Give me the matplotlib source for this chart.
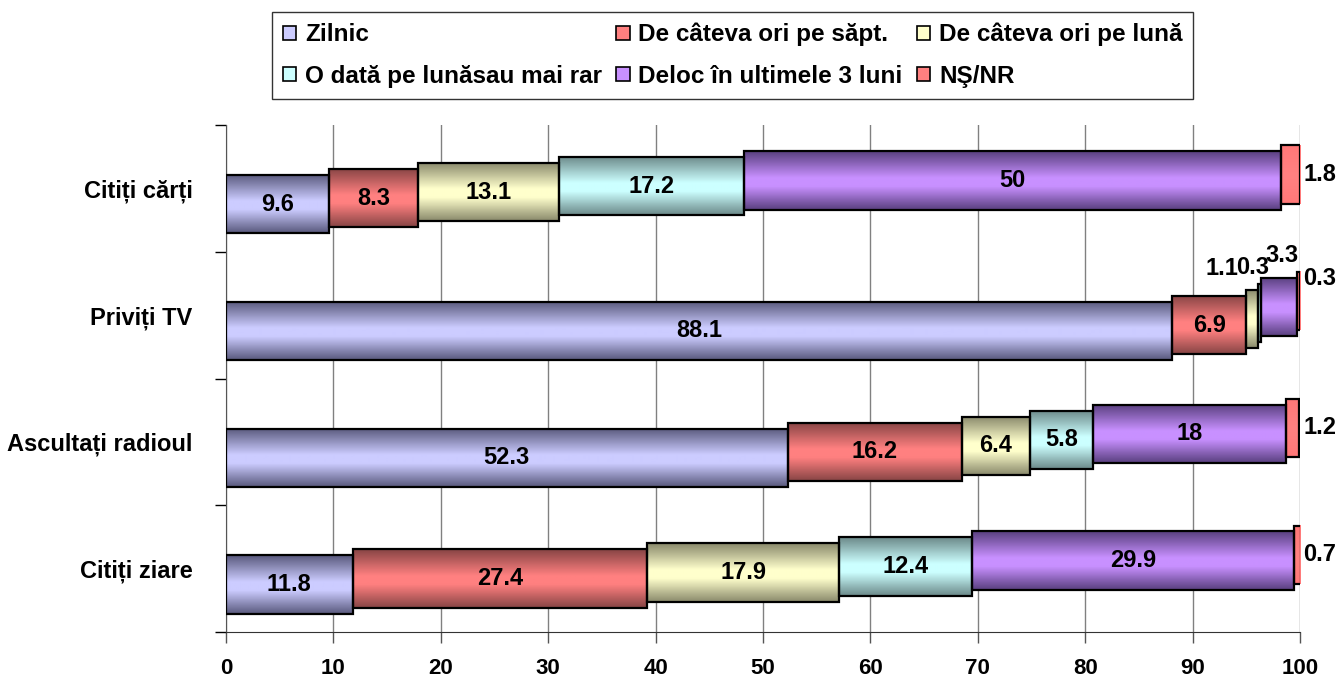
import numpy as np
import matplotlib
matplotlib.use("Agg")
import matplotlib.pyplot as plt
from matplotlib.colors import LinearSegmentedColormap
from matplotlib.patches import Rectangle, Patch

plt.rcParams['font.family'] = ['Liberation Sans', 'DejaVu Sans']
plt.rcParams['font.weight'] = 'bold'

# categories, bottom to top
categories = ['Citiți ziare', 'Ascultați radioul', 'Priviți TV', 'Citiți cărți']
series_names = ['Zilnic', 'De câteva ori pe săpt.', 'De câteva ori pe lună',
                'O dată pe lunăsau mai rar', 'Deloc în ultimele 3 luni', 'NŞ/NR']
zilnic = [11.8, 52.3, 88.1, 9.6]
saptamana = [27.4, 16.2, 6.9, 8.3]
luna = [17.9, 6.4, 1.1, 13.1]
rar = [12.4, 5.8, 0.3, 17.2]
deloc = [29.9, 18.0, 3.3, 50.0]
nsnr = [0.7, 1.2, 0.3, 1.8]
values = np.array([zilnic, saptamana, luna, rar, deloc, nsnr])
x_ticks = [0, 10, 20, 30, 40, 50, 60, 70, 80, 90, 100]

light = ['#CCCCFF', '#FF8080', '#FFFFCC', '#CCFFFF', '#C890FF', '#FF8080']
dark = ['#5A5A7E', '#884545', '#8A8A6C', '#6C8A8A', '#5A4080', '#FF7878']

W, H = 1339, 680
fig = plt.figure(figsize=(W / 100, H / 100), dpi=100)
ax = fig.add_axes([226 / W, 1 - 632 / H, (1300 - 226) / W, (632 - 125) / H])

bar_h = 0.46
base_off = -0.125
step = 0.047
grad = np.linspace(0, 1, 64).reshape(-1, 1)
lab = dict(fontsize=17, fontweight='bold', zorder=4)

# small TV segments: label offsets (dx, dy) relative to segment start / centre
small_off = {2: (-2.3, 0.40), 3: (-0.5, 0.36), 4: (1.9, 0.41)}

lefts = np.vstack([np.zeros(values.shape[1]), np.cumsum(values, axis=0)[:-1]])
for i in range(values.shape[0]):
    cmap = LinearSegmentedColormap.from_list(
        'c%d' % i, [(0, dark[i]), (0.45, light[i]), (0.6, light[i]), (1, dark[i])])
    for j in range(values.shape[1]):
        l = lefts[i, j]
        w = values[i, j]
        yc = j + base_off + step * i
        ax.imshow(grad, extent=[l, l + w, yc - bar_h / 2, yc + bar_h / 2],
                  aspect='auto', cmap=cmap, zorder=2, interpolation='bilinear')
        ax.add_patch(Rectangle((l, yc - bar_h / 2), w, bar_h, fill=False,
                               edgecolor='black', linewidth=1.6, zorder=3))
        txt = '%g' % w
        if i == 5:
            dy = 0.18 if w < 0.5 else 0
            ax.text(100.3, yc + dy, txt, ha='left', va='center', clip_on=False, **lab)
        elif w < 4:
            dx, dy = small_off[i]
            ax.text(l + dx, yc + dy, txt, ha='center', va='center', **lab)
        else:
            ax.text(l + w / 2, yc, txt, ha='center', va='center', **lab)

ax.set_xlim(0, 100)
ax.set_ylim(-0.5, len(categories) - 0.5)
ax.set_xticks(x_ticks)
ax.set_xticklabels([str(t) for t in x_ticks], fontsize=16, fontweight='bold')
ax.set_yticks(np.arange(len(categories) + 1) - 0.5)
ax.set_yticklabels([])
ax.set_yticks(np.arange(len(categories)), minor=True)
ax.set_yticklabels(categories, minor=True, fontsize=17, fontweight='bold')
ax.tick_params(axis='y', which='minor', length=0, pad=24)
ax.tick_params(axis='y', which='major', length=8, width=1, direction='out')
ax.tick_params(axis='x', length=8, width=1, direction='out', pad=11, color='#555555')
ax.xaxis.grid(True, color='#808080', linewidth=1, zorder=0)
ax.set_axisbelow(True)
for s in ['top', 'right']:
    ax.spines[s].set_visible(False)
ax.spines['left'].set_color('#555555')
ax.spines['bottom'].set_color('#333333')

# legend, filled row by row in the reference -> reorder for column fill
order = [0, 3, 1, 4, 2, 5]
handles = [Patch(facecolor=light[k], edgecolor='black', linewidth=1.2, label=series_names[k]) for k in order]
leg = fig.legend(handles=handles, ncol=3, loc='upper left',
                 bbox_to_anchor=(272 / W, 1 - 12 / H), borderaxespad=0,
                 prop={'size': 17.5, 'weight': 'bold'},
                 handlelength=0.55, handleheight=0.55, handletextpad=0.35,
                 columnspacing=0.6, labelspacing=0.75, borderpad=0.45,
                 fancybox=False, frameon=True, edgecolor='black')
leg.get_frame().set_linewidth(1)

fig.savefig('out.png', dpi=100)
